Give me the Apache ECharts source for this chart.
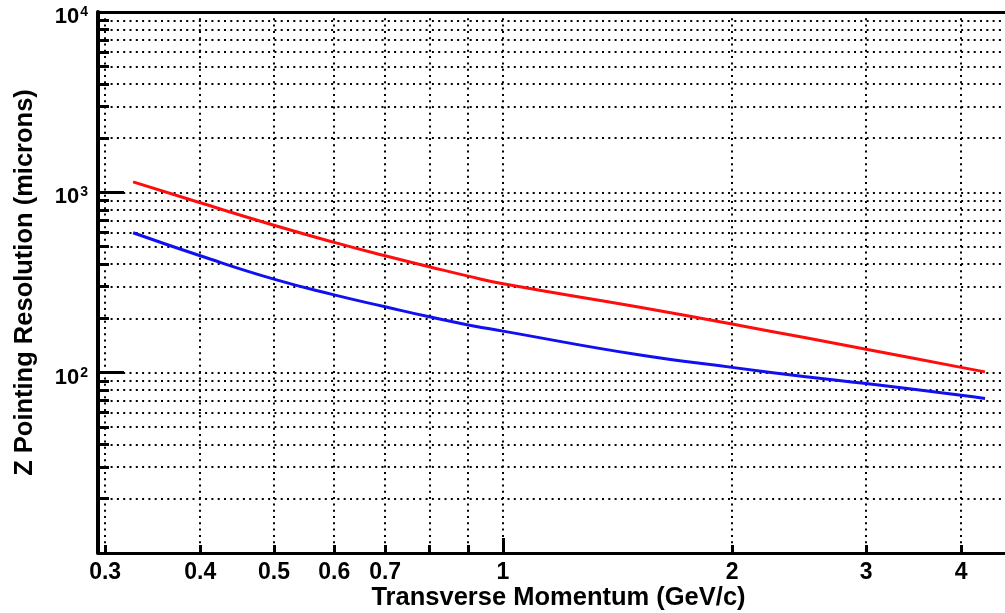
<!DOCTYPE html>
<html>
<head>
<meta charset="utf-8">
<script src="https://cdn.jsdelivr.net/npm/echarts@6/dist/echarts.min.js"></script>
<style>html,body{margin:0;padding:0;background:#fff;}#c{width:1005px;height:613px;}</style>
</head>
<body>
<div id="c"></div>
<script>
// Data
const pt = [0.3265, 0.4, 0.5, 0.6, 0.7, 0.8, 0.9, 1, 1.5, 2, 2.5, 3, 4, 4.3];
const redRes = [1143, 875, 657, 528, 445, 387, 343, 311, 232, 186, 156, 135, 107, 101];
const blueRes = [597, 445, 330, 270, 232, 204, 184, 170, 126, 107, 95, 87, 75, 72];
const xLabelValues = [0.3, 0.4, 0.5, 0.6, 0.7, 1, 2, 3, 4];
const xMajorTicks = [1];
const xMinorTicks = [0.3, 0.4, 0.5, 0.6, 0.7, 0.8, 0.9, 2, 3, 4];
const yLabelValues = [100, 1000, 10000];
const yMajorTicks = [100, 1000];
const yMinorTicks = [20, 30, 40, 50, 60, 70, 80, 90, 200, 300, 400, 500, 600, 700, 800, 900, 2000, 3000, 4000, 5000, 6000, 7000, 8000, 9000];
const xMin = 0.2936, xMax = 4.568, yMin = 10, yMax = 10000;

const font = '"Liberation Sans", Arial, Helvetica, sans-serif';
const gridLine = {show: true, lineStyle: {color: '#000', width: 2, type: [2, 4.3]}};

const chart = echarts.init(document.getElementById('c'), null, {renderer: 'canvas'});
chart.setOption({
  animation: false,
  backgroundColor: '#fff',
  grid: {left: 98, right: 0, top: 12, bottom: 60, show: false, containLabel: false, outerBoundsMode: 'none'},
  xAxis: [
    {
      type: 'log', min: xMin, max: xMax, position: 'bottom',
      name: 'Transverse Momentum (GeV/c)', nameLocation: 'middle', nameGap: 32, nameMoveOverlap: false,
      nameTextStyle: {fontFamily: font, fontWeight: 'bold', fontSize: 25.5, color: '#000', padding: [0, 0, 0, 14]},
      axisLine: {show: true, lineStyle: {color: '#000', width: 3}},
      axisTick: {show: true, inside: true, length: 15, customValues: xMajorTicks, lineStyle: {color: '#000', width: 3}},
      axisLabel: {show: true, customValues: xLabelValues, margin: 8, fontFamily: font, fontWeight: 'bold', fontSize: 23, color: '#000',
        formatter: v => String(+v.toFixed(2))},
      splitLine: gridLine, minorTick: {show: false}, minorSplitLine: {show: false}
    },
    {
      type: 'log', min: xMin, max: xMax, position: 'bottom',
      axisLine: {show: false},
      axisTick: {show: true, inside: true, length: 8, customValues: xMinorTicks, lineStyle: {color: '#000', width: 3}},
      axisLabel: {show: false},
      splitLine: gridLine
    },
    {
      type: 'log', min: xMin, max: xMax, position: 'top',
      axisLine: {show: true, lineStyle: {color: '#000', width: 3}},
      axisTick: {show: false}, axisLabel: {show: false}, splitLine: {show: false}
    }
  ],
  yAxis: [
    {
      type: 'log', min: yMin, max: yMax, position: 'left',
      name: 'Z Pointing Resolution (microns)', nameLocation: 'middle', nameGap: 60, nameRotate: 90, nameMoveOverlap: false,
      nameTextStyle: {fontFamily: font, fontWeight: 'bold', fontSize: 25.5, color: '#000'},
      axisLine: {show: true, lineStyle: {color: '#000', width: 4}},
      axisTick: {show: true, inside: true, length: 26, customValues: yMajorTicks, lineStyle: {color: '#000', width: 3}},
      axisLabel: {show: true, customValues: yLabelValues, margin: 10,
        formatter: v => '{b|10}{s|' + Math.round(Math.log10(v)) + '}',
        rich: {
          b: {fontFamily: font, fontWeight: 'bold', fontSize: 22, color: '#000', padding: [10, 0, 0, 0]},
          s: {fontFamily: font, fontWeight: 'bold', fontSize: 14, color: '#000', padding: [0, 0, 0, 1]}
        }},
      splitLine: gridLine
    },
    {
      type: 'log', min: yMin, max: yMax, position: 'left',
      axisLine: {show: false},
      axisTick: {show: true, inside: true, length: 11, customValues: yMinorTicks, lineStyle: {color: '#000', width: 3}},
      axisLabel: {show: false},
      splitLine: gridLine
    }
  ],
  series: [
    {type: 'line', name: 'red', xAxisIndex: 0, yAxisIndex: 0, smooth: true, showSymbol: false, symbol: 'none',
      lineStyle: {color: '#ff0d0d', width: 3}, data: pt.map((x, i) => [x, redRes[i]]), z: 5},
    {type: 'line', name: 'blue', xAxisIndex: 0, yAxisIndex: 0, smooth: true, showSymbol: false, symbol: 'none',
      lineStyle: {color: '#1010f0', width: 3}, data: pt.map((x, i) => [x, blueRes[i]]), z: 5}
  ]
});
</script>
</body>
</html>
